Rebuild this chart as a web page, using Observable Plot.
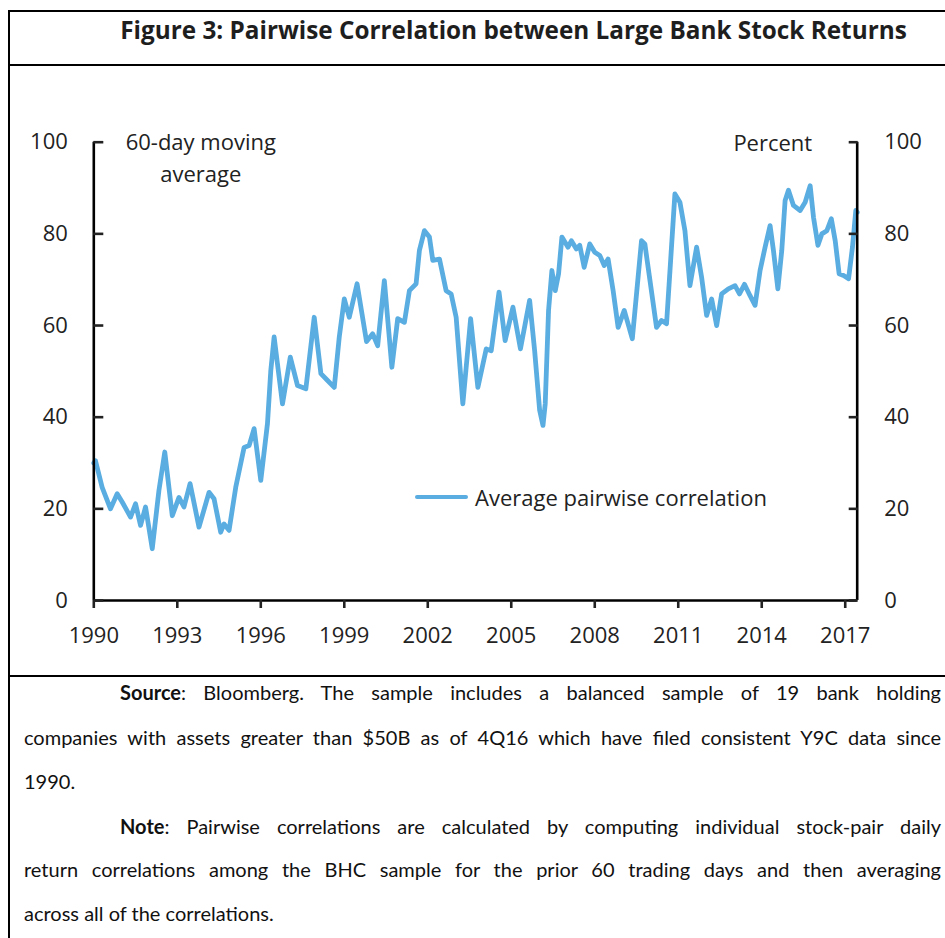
<!DOCTYPE html>
<html>
<head>
<meta charset="utf-8">
<script src="https://cdn.jsdelivr.net/npm/d3@7"></script>
<script src="https://cdn.jsdelivr.net/npm/@observablehq/plot@0.6"></script>
<style>
  html, body { margin: 0; padding: 0; background: #fff; }
  #page { position: relative; width: 945px; height: 938px; overflow: hidden; background: #fff; font-family: "Open Sans", sans-serif; color: #1e1e1e; }
  .hline { position: absolute; left: 8px; width: 960px; height: 2px; background: #000; }
  .vline { position: absolute; left: 8px; top: 10px; width: 2px; height: 940px; background: #000; }
  #title { position: absolute; top: 2px; left: 0; width: 1027px; height: 55px; line-height: 55px; text-align: center; font-weight: 700; font-size: 21.5px; white-space: nowrap; }
  #chart { position: absolute; left: 0; top: 66px; }
  #legend { position: absolute; left: 415px; top: 482px; height: 30px; display: flex; align-items: center; font-size: 22px; color: #222; white-space: nowrap; }
  #legend .sw { width: 53px; height: 4.8px; border-radius: 3px; background: #5aade0; margin-right: 7px; }
  .cap { position: absolute; left: 24px; width: 917px; height: 30px; line-height: 30px; font-family: Lato, "Open Sans", sans-serif; font-size: 20px; text-align: justify; text-align-last: justify; white-space: normal; color: #111; }
  .cap.last { text-align-last: left; }
  .cap.first { text-indent: 96px; }
</style>
</head>
<body>
<div id="page">
  <div class="hline" style="top:10px"></div>
  <div class="hline" style="top:64px"></div>
  <div class="hline" style="top:675px"></div>
  <div class="vline"></div>
  <div id="title"><span id="titleText"></span></div>
  <div id="chart"></div>
  <div id="legend"><span class="sw"></span><span id="legendText"></span></div>
  <div id="caption"></div>
</div>
<script>
// ---- data ----
const titleText = "Figure 3: Pairwise Correlation between Large Bank Stock Returns";
const seriesName = "Average pairwise correlation";
const leftNote = "60-day moving\naverage";
const unitNote = "Percent";
const xTicks = [1990, 1993, 1996, 1999, 2002, 2005, 2008, 2011, 2014, 2017];
const yTicks = [0, 20, 40, 60, 80, 100];
const xDomain = [1990, 2017.43];
const years = [
  1990.00, 1990.06, 1990.30, 1990.60, 1990.84, 1991.02, 1991.32, 1991.50, 1991.68, 1991.86,
  1992.10, 1992.34, 1992.55, 1992.82, 1993.06, 1993.24, 1993.46, 1993.78, 1994.14, 1994.32,
  1994.56, 1994.68, 1994.86, 1995.10, 1995.40, 1995.58, 1995.76, 1996.00, 1996.24, 1996.36,
  1996.48, 1996.60, 1996.78, 1997.06, 1997.32, 1997.62, 1997.92, 1998.16, 1998.40, 1998.64,
  1998.82, 1999.00, 1999.18, 1999.46, 1999.80, 2000.02, 2000.20, 2000.44, 2000.71, 2000.92,
  2001.16, 2001.34, 2001.58, 2001.70, 2001.88, 2002.06, 2002.18, 2002.42, 2002.66, 2002.84,
  2003.02, 2003.26, 2003.54, 2003.80, 2004.10, 2004.28, 2004.56, 2004.78, 2005.06, 2005.33,
  2005.66, 2005.84, 2006.02, 2006.14, 2006.22, 2006.34, 2006.46, 2006.58, 2006.70, 2006.82,
  2007.04, 2007.16, 2007.34, 2007.46, 2007.62, 2007.82, 2008.00, 2008.18, 2008.34, 2008.48,
  2008.66, 2008.84, 2009.06, 2009.35, 2009.68, 2009.80, 2010.22, 2010.40, 2010.58, 2010.88,
  2011.06, 2011.24, 2011.42, 2011.66, 2011.84, 2012.02, 2012.20, 2012.38, 2012.56, 2012.80,
  2013.04, 2013.20, 2013.38, 2013.58, 2013.76, 2013.94, 2014.12, 2014.30, 2014.42, 2014.58,
  2014.72, 2014.84, 2014.96, 2015.14, 2015.38, 2015.56, 2015.74, 2015.86, 2016.02, 2016.16,
  2016.34, 2016.50, 2016.64, 2016.78, 2016.94, 2017.12, 2017.26, 2017.38, 2017.43
];
const values = [
  30.0, 30.5, 24.7, 20.0, 23.3, 21.5, 18.2, 21.1, 16.4, 20.4,
  11.3, 24.0, 32.4, 18.5, 22.5, 20.4, 25.5, 16.0, 23.6, 22.2,
  14.9, 16.7, 15.3, 24.7, 33.4, 33.8, 37.5, 26.2, 38.6, 50.2,
  57.5, 51.6, 42.9, 53.1, 46.9, 46.2, 61.8, 49.5, 48.0, 46.5,
  57.5, 65.8, 61.8, 69.1, 56.5, 58.2, 55.6, 69.8, 50.9, 61.5,
  60.7, 67.6, 69.1, 76.4, 80.7, 79.3, 74.2, 74.5, 67.6, 66.9,
  61.8, 42.9, 61.5, 46.5, 54.9, 54.5, 67.3, 56.7, 64.0, 54.9,
  65.5, 54.5, 41.5, 38.2, 42.9, 63.3, 72.0, 67.6, 71.3, 79.3,
  77.1, 78.5, 76.7, 77.5, 72.7, 77.8, 76.0, 75.3, 73.1, 74.5,
  67.6, 59.6, 63.3, 57.1, 78.5, 77.8, 59.6, 61.1, 60.4, 88.7,
  86.9, 80.7, 68.7, 77.1, 70.5, 62.2, 65.8, 60.0, 66.9, 68.0,
  68.7, 66.9, 69.0, 66.5, 64.4, 72.0, 77.1, 81.8, 76.4, 68.0,
  76.4, 87.3, 89.5, 86.2, 85.1, 86.9, 90.5, 83.6, 77.5, 80.0,
  80.7, 83.3, 78.5, 71.3, 70.9, 70.2, 77.1, 85.1, 84.7
];
const captionLines = [
  {bold: "Source", text: ": Bloomberg. The sample includes a balanced sample of 19 bank holding", cls: "first"},
  {bold: "", text: "companies with assets greater than $50B as of 4Q16 which have filed consistent Y9C data since", cls: ""},
  {bold: "", text: "1990.", cls: "last"},
  {bold: "Note", text: ": Pairwise correlations are calculated by computing individual stock-pair daily", cls: "first"},
  {bold: "", text: "return correlations among the BHC sample for the prior 60 trading days and then averaging", cls: ""},
  {bold: "", text: "across all of the correlations.", cls: "last"}
];
const captionCenters = [692, 737, 781, 826, 869, 913];

// ---- build ----
const data = years.map((y, i) => ({year: y, value: values[i]}));
const lineColor = "#5aade0";

const chart = Plot.plot({
  width: 945,
  height: 610,
  marginTop: 75.7,
  marginBottom: 76,
  marginLeft: 93.3,
  marginRight: 88.3,
  x: {domain: xDomain},
  y: {domain: [0, 100]},
  style: {fontFamily: "'Open Sans', sans-serif", fontSize: "22px", color: "#222", background: "transparent", overflow: "visible"},
  marks: [
    Plot.lineY(data, {x: "year", y: "value", stroke: lineColor, strokeWidth: 4.8, strokeLinejoin: "round", strokeLinecap: "round"}),
    Plot.ruleX(xDomain, {stroke: "#000", strokeWidth: 2.6}),
    Plot.ruleY([0], {stroke: "#000", strokeWidth: 2.6}),
    Plot.axisY({anchor: "left", ticks: yTicks, tickSize: -10, tickPadding: 36, strokeWidth: 2.6, label: null, tickFormat: d => String(d)}),
    Plot.axisY({anchor: "right", ticks: yTicks, tickSize: -9, tickPadding: 36, strokeWidth: 2.6, label: null, tickFormat: d => String(d)}),
    Plot.axisX({anchor: "bottom", ticks: xTicks, tickSize: 8, tickPadding: 19, strokeWidth: 2.6, label: null, tickFormat: d => String(d)}),
    Plot.text([leftNote], {text: d => d, frameAnchor: "top-left", dx: 107, dy: -15, lineAnchor: "top", textAnchor: "middle", lineHeight: 1.45, fill: "#222"}),
    Plot.text([unitNote], {text: d => d, frameAnchor: "top-right", dx: -45, dy: -7, lineAnchor: "top", textAnchor: "end", fill: "#222"})
  ]
});
document.getElementById("chart").appendChild(chart);

document.getElementById("legendText").textContent = seriesName;

// title fit to reference width
const tt = document.getElementById("titleText");
tt.textContent = titleText;
const tw = tt.getBoundingClientRect().width;
tt.style.fontSize = (21.5 * 787 / tw) + "px";

// caption
const cap = document.getElementById("caption");
const divs = captionLines.map((l, i) => {
  const d = document.createElement("div");
  d.className = "cap " + l.cls;
  d.style.top = (captionCenters[i] - 15) + "px";
  if (l.bold) { const b = document.createElement("b"); b.textContent = l.bold; d.appendChild(b); }
  d.appendChild(document.createTextNode(l.text));
  cap.appendChild(d);
  return d;
});
// shrink font if any line would wrap
let fs = 20;
function fits() { return divs.every(d => d.getBoundingClientRect().height <= 31 && d.scrollHeight <= 31); }
while (!fits() && fs > 12) { fs -= 0.25; divs.forEach(d => d.style.fontSize = fs + "px"); }
</script>
</body>
</html>
